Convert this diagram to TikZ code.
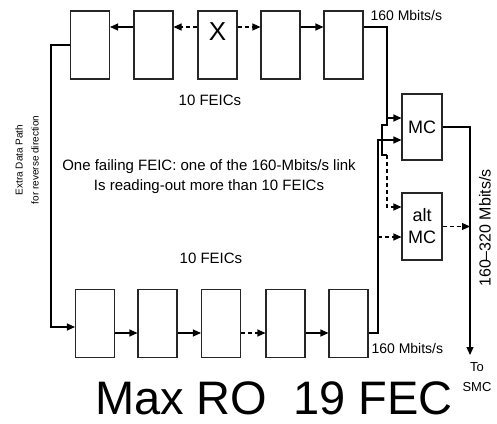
\documentclass[tikz,border=0pt]{standalone}
\usepackage{fontspec}
\setmainfont{Liberation Sans}
\usetikzlibrary{arrows.meta}
\newcommand{\feic}[3]{\node[feicbox] (#1) at (#2,#3) {};}
\newcommand{\fs}[2]{\fontsize{#1}{#2}\selectfont}

\begin{document}
\begin{tikzpicture}[x=1pt,y=-1pt,
  feicbox/.style={draw=black!85,line width=1.1pt,minimum width=39pt,minimum height=68pt,inner sep=0pt},
  mcbox/.style={feicbox,minimum width=40pt,minimum height=66pt,font=\fs{18}{22},align=center},
  flow/.style={line width=1.1pt,-{Triangle[length=8pt,width=7pt]}},
  gap/.style={flow,dash pattern=on 4pt off 3pt}]
\useasboundingbox (0,0) rectangle (497,423);
\coordinate (toprow) at (0,27);
\coordinate (botrow) at (0,333);
\coordinate (rev) at (51,327);
\coordinate (ja) at (387,118);
\coordinate (jb) at (378,140);
\coordinate (jc) at (387,155);
\coordinate (altin1) at (0,207);
\coordinate (altin2) at (0,237);
\coordinate (smc) at (470,355);
% top chain
\feic{t1}{90}{45}\feic{t2}{153.5}{45}\feic{t3}{217.5}{45}\feic{t4}{280.5}{45}\feic{t5}{343.5}{45}
% bottom chain
\feic{b1}{95}{323.5}\feic{b2}{157.5}{323.5}\feic{b3}{221}{323.5}\feic{b4}{285.5}{323.5}\feic{b5}{348.5}{323.5}
\node[mcbox] (mc) at (422,127) {MC};
\node[mcbox,minimum height=67pt] (alt) at (422,226.5) {alt\\MC};
\node[font=\fs{26}{26}] (xmark) at (217.5,32) {X};
\draw[flow] (t2.west |- toprow) -- (t1.east |- toprow);
\draw[gap] (t3.west |- toprow) -- (t2.east |- toprow);
\draw[gap] (t3.east |- toprow) -- (t4.west |- toprow);
\draw[flow] (t4.east |- toprow) -- (t5.west |- toprow);
\draw[flow] (b1.east |- botrow) -- (b2.west |- botrow);
\draw[flow] (b2.east |- botrow) -- (b3.west |- botrow);
\draw[gap] (b3.east |- botrow) -- (b4.west |- botrow);
\draw[flow] (b4.east |- botrow) -- (b5.west |- botrow);
% extra path and read-out links
\draw[flow] (t1.west) -| (rev) -- (b1.west |- rev);
\draw[flow] (t5.east |- toprow) -| (ja) -- (mc.west |- ja);
\draw[flow] (b5.east |- botrow) -| (jb) -- (mc.west |- jb);
\draw[line width=1.1pt] (ja) -- ++(0,7) -- ++(-5,0) |- (jc);
\draw[gap] (jc) |- (alt.west |- altin1);
\draw[gap] (jb |- altin2) -- (alt.west |- altin2);
\draw[flow] (mc.east) -| (smc);
\draw[gap] (alt.east) -- (smc |- alt.east);
% labels
\node[anchor=west,font=\fs{14}{14}] (rate1) at (367,15) {160 Mbits/s};
\node[anchor=west,font=\fs{14}{14}] (rate2) at (368,348) {160 Mbits/s};
\node[rotate=90,font=\fs{16}{16}] (rate3) at (485,228) {160--320 Mbits/s};
\node[align=center,font=\fs{13}{20}] (tosmc) at (477,377) {To\\SMC};
\node[font=\fs{15}{15}] (topcount) at (210,100) {10 FEICs};
\node[align=center,font=\fs{15}{20}] (fail) at (209,177) {One failing FEIC: one of the 160-Mbits/s link\\Is reading-out more than 10 FEICs};
\node[font=\fs{15}{15}] (botcount) at (211,258) {10 FEICs};
\node[rotate=90,align=center,font=\fs{10}{16}] (extra) at (27,160) {Extra Data Path\\for reverse direction};
\node[anchor=base,inner sep=0pt,font=\fs{47}{47}] (maxro) at (274,414) {Max RO\ \ 19 FEC};
\end{tikzpicture}
\end{document}
